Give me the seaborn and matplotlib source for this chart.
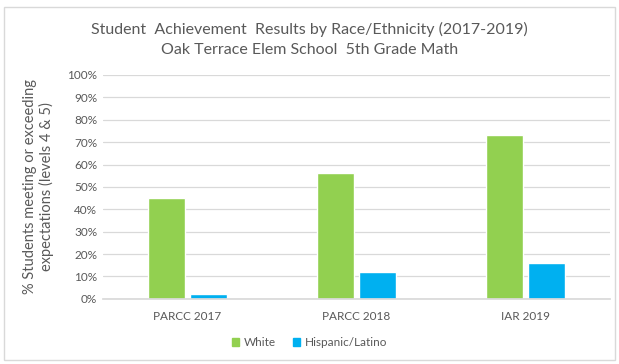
import matplotlib
matplotlib.use("Agg")
import matplotlib.pyplot as plt
import matplotlib.patches as mpatches
import pandas as pd
import seaborn as sns

tests = ["PARCC 2017", "PARCC 2018", "IAR 2019"]
white = [45, 56, 73]
hispanic = [2, 12, 16]
groups = ["White", "Hispanic/Latino"]
colors = ["#92D050", "#00B0F0"]

df = pd.DataFrame({
    "test": tests * 2,
    "group": [groups[0]] * 3 + [groups[1]] * 3,
    "pct": white + hispanic,
})

sns.set_theme(style="white")
plt.rcParams["font.family"] = ["Lato", "DejaVu Sans"]
text_color = "#595959"

fig = plt.figure(figsize=(6.19, 3.64), dpi=100)
ax = fig.add_axes([0.166, 0.179, 0.819, 0.615])

sns.barplot(data=df, x="test", y="pct", hue="group", palette=colors,
            width=0.5, gap=0.12, saturation=1, ax=ax, legend=False)

ax.set_ylim(0, 100)
ax.set_yticks(range(0, 101, 10))
ax.set_yticklabels([f"{v}%" for v in range(0, 101, 10)], color=text_color, fontsize=8.5)
ax.tick_params(axis="x", colors=text_color, labelsize=8.5, length=0, pad=9)
ax.tick_params(axis="y", length=0, pad=4)
ax.yaxis.grid(True, color="#D9D9D9", linewidth=0.9)
ax.set_axisbelow(True)
for side in ["top", "right", "left"]:
    ax.spines[side].set_visible(False)
ax.spines["bottom"].set_color("#D9D9D9")
ax.set_xlabel("")
ax.set_ylabel("")

fig.text(0.062, 0.487, "% Students meeting or exceeding\nexpectations (levels 4 & 5)",
         rotation=90, ha="center", va="center", color=text_color, fontsize=10.5,
         linespacing=1.15)

fig.text(0.5, 0.918, "Student  Achievement  Results by Race/Ethnicity (2017-2019)",
         ha="center", va="center", color=text_color, fontsize=11.5)
fig.text(0.5, 0.863, "Oak Terrace Elem School  5th Grade Math",
         ha="center", va="center", color=text_color, fontsize=11.5)

handles = [mpatches.Patch(color=c, label=g) for c, g in zip(colors, groups)]
fig.legend(handles=handles, loc="center", bbox_to_anchor=(0.5, 0.058), ncol=2,
           frameon=False, fontsize=8.5, labelcolor=text_color,
           handlelength=0.6, handleheight=0.6, handletextpad=0.4, columnspacing=1.5)

fig.patches.append(mpatches.Rectangle((0.006, 0.01), 0.988, 0.972, transform=fig.transFigure,
                                      fill=False, edgecolor="#D9D9D9", linewidth=1))

fig.savefig("out.png", dpi=100)
